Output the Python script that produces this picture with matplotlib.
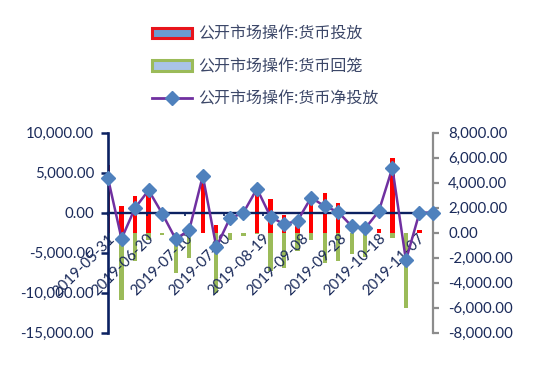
import matplotlib
matplotlib.use("Agg")
import matplotlib.pyplot as plt
import matplotlib.dates as mdates
from matplotlib.patches import Patch
from matplotlib.lines import Line2D
from matplotlib.ticker import FuncFormatter, FixedLocator
import numpy as np
import datetime as dt

plt.rcParams['font.family'] = ['Lato', 'Noto Sans CJK SC', 'DejaVu Sans']

# ---- data ----
dates = ['2019-05-31', '2019-06-07', '2019-06-14', '2019-06-21', '2019-06-28',
         '2019-07-05', '2019-07-12', '2019-07-19', '2019-07-26', '2019-08-02',
         '2019-08-09', '2019-08-16', '2019-08-23', '2019-08-30', '2019-09-06',
         '2019-09-13', '2019-09-20', '2019-09-27', '2019-10-04', '2019-10-11',
         '2019-10-18', '2019-10-25', '2019-11-01', '2019-11-08', '2019-11-15']
injection = [5400, 2100, 2900, 3400, 0, 0, 0, 4600, 600, 0,
             0, 3300, 2700, 1400, 500, 2700, 3200, 2400, 0, 0,
             300, 6000, 0, 200, 0]
withdrawal = [-1100, -5350, -2300, -600, -200, -3200, -2050, 0, -4800, -600,
              -250, -100, -3100, -2850, -1500, -600, -2450, -2300, -1700, -1950,
              0, -450, -6000, 0, 0]
net = [4300, -3250, 600, 2800, -100, -3300, -2150, 4600, -4300, -700,
       0, 3000, -500, -1450, -1000, 1900, 800, 100, -1700, -1950,
       200, 5600, -5950, 0, 0]
tick_labels = ['2019-05-31', '2019-06-20', '2019-07-10', '2019-07-30', '2019-08-19',
               '2019-09-08', '2019-09-28', '2019-10-18', '2019-11-07']
series_names = ['公开市场操作:货币投放', '公开市场操作:货币回笼', '公开市场操作:货币净投放']

navy = '#0b2161'
label_col = '#1a2a5a'
red = '#ff0000'
green = '#9bbb59'
purple = '#7030a0'
diamond = '#4f81bd'

x = [dt.datetime.strptime(d, '%Y-%m-%d') for d in dates]
xn = mdates.date2num(x)
tx = mdates.date2num([dt.datetime.strptime(d, '%Y-%m-%d') for d in tick_labels])

fig = plt.figure(figsize=(5.35, 3.69), dpi=100)
ax = fig.add_axes([108/535, 1-332.7/369, (433-108)/535, 200/369])
ax2 = ax.twinx()

# bars on the right axis
ax2.bar(xn, injection, width=2.2, color=red, zorder=2)
ax2.bar(xn, withdrawal, width=2.2, color=green, zorder=2)
ax2.set_ylim(-8000, 8000)
ax2.set_yticks(np.arange(-8000, 8001, 2000))

# line on the left axis
ax.plot(xn, net, color=purple, lw=1.8, marker='D', ms=7.5,
        mfc=diamond, mec=diamond, zorder=5, clip_on=False)
ax.set_ylim(-15000, 10000)
ax.set_yticks(np.arange(-15000, 10001, 5000))
ax.set_xlim(xn[0], xn[-1])

ax.set_zorder(2)
ax2.set_zorder(1)
ax.patch.set_visible(False)

fmt = FuncFormatter(lambda v, p: f'{v:,.2f}')
ax.yaxis.set_major_formatter(fmt)
ax2.yaxis.set_major_formatter(fmt)

# spines
for s in ['top', 'right']:
    ax.spines[s].set_visible(False)
ax.spines['left'].set_color(navy)
ax.spines['left'].set_linewidth(1.9)
ax.spines['bottom'].set_position(('data', 0))
ax.spines['bottom'].set_color(navy)
ax.spines['bottom'].set_linewidth(1.7)
for s in ['top', 'left', 'bottom']:
    ax2.spines[s].set_visible(False)
ax2.spines['right'].set_color('#8c8c8c')
ax2.spines['right'].set_linewidth(1.6)

ax.tick_params(axis='y', direction='out', length=5, width=1.8, color=navy,
               labelcolor=label_col, labelsize=10.8, pad=5)
ax2.tick_params(axis='y', direction='out', length=4, width=1.6, color='#8c8c8c',
                labelcolor=label_col, labelsize=10.8, pad=7)

ax.xaxis.set_major_locator(FixedLocator(tx))
ax.set_xticklabels(tick_labels)
ax.tick_params(axis='x', direction='out', length=2.5, width=1.2, color=navy,
               labelcolor=label_col, labelsize=10.8, pad=11)
for lab in ax.get_xticklabels():
    lab.set_rotation(45)
    lab.set_ha('right')
    lab.set_va('top')
    lab.set_rotation_mode('anchor')

# legend
handles = [Patch(facecolor='#6a9bd1', edgecolor='#e8141c', linewidth=2.2),
           Patch(facecolor='#a9c3e6', edgecolor=green, linewidth=2.2),
           Line2D([], [], color=purple, lw=2, marker='D', ms=7,
                  mfc=diamond, mec=diamond)]
leg = fig.legend(handles, series_names, loc='upper left',
                 bbox_to_anchor=(152/535, 1-26/369), frameon=False,
                 prop={'family': ['Noto Sans CJK SC', 'DejaVu Sans'], 'size': 11.5},
                 handlelength=2.5, handleheight=0.6, handletextpad=0.4,
                 labelspacing=0.95, borderaxespad=0, borderpad=0)
for t in leg.get_texts():
    t.set_color('#3c4768')

fig.savefig('out.png', dpi=100)
